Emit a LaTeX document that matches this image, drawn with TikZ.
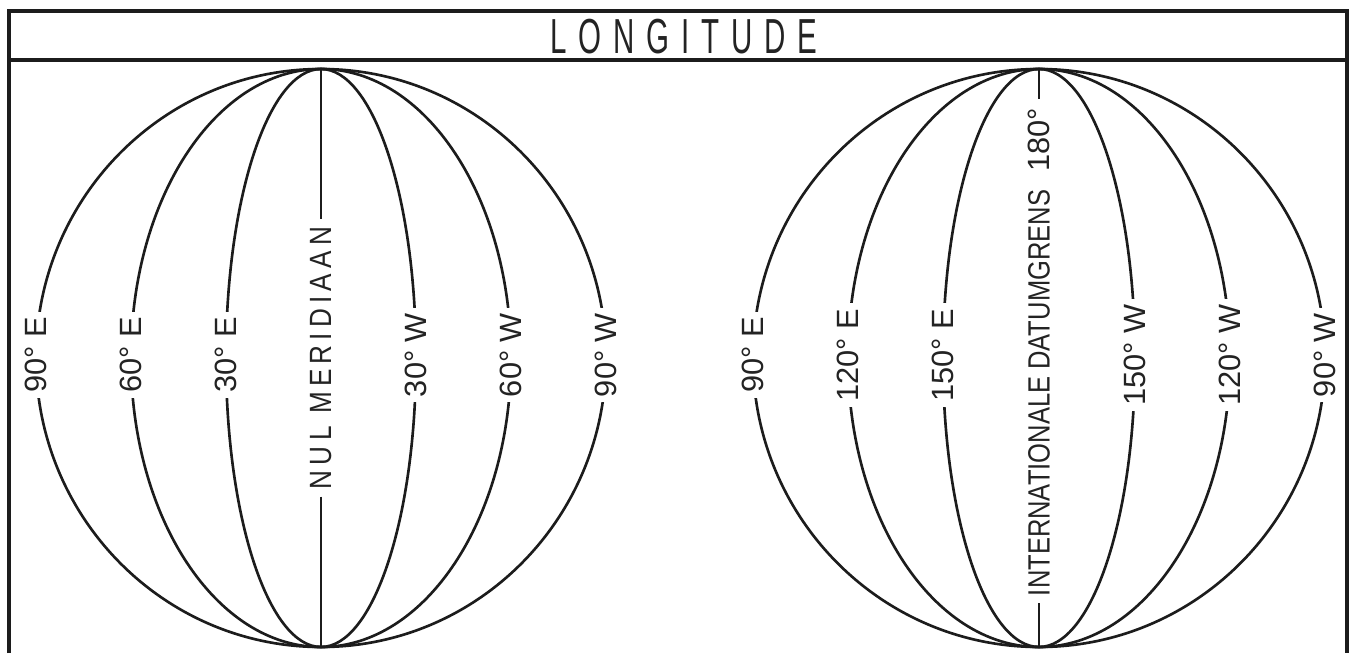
\documentclass[tikz,border=0pt]{standalone}
\usepackage{fontspec}
\setmainfont{Liberation Sans}
\newfontfamily\lonLabelFont{Liberation Sans}
\newfontfamily\lonNarrowFont{Liberation Sans}[FakeStretch=0.83]
\newfontfamily\lonSpacedFont{Liberation Sans}[FakeStretch=0.85,LetterSpace=17]
\newfontfamily\lonTitleFont{Liberation Sans}[FakeStretch=0.6,LetterSpace=24]
\definecolor{lonLine}{RGB}{28,28,28}
\definecolor{lonText}{RGB}{35,35,35}
\tikzset{
  lonframe/.style={
    draw=lonLine,
    line width=2.3pt
  },
  meridian/.style={
    draw=lonLine,
    line width=1.5pt
  },
  deglabel/.style={
    fill=white,
    rotate=90,
    inner xsep=3pt,
    inner ysep=1pt,
    text=lonText,
    font=\lonLabelFont\fontsize{17.5}{20}\selectfont
  },
  meridianname/.style={
    deglabel,
    inner xsep=4pt
  }
}

\begin{document}
\begin{tikzpicture}[x=0.2mm, y=-0.2mm]
  \useasboundingbox (0,0) rectangle (1354,653);

  % frame and title band
  \draw[lonframe] (9,653) -- (9,11) -- (1347,11) -- (1347,653);
  \draw[lonframe] (9,60) -- (1347,60);
  \node[text=lonText, font=\lonTitleFont\fontsize{28}{30}\selectfont] (title)
    at (684,37) {LONGITUDE};

  % left globe
  \coordinate (ltop) at (321,69);
  \coordinate (lbot) at (321,647);
  \foreach \r in {285,190,95}
    \draw[meridian] (321,358) ellipse [x radius=\r, y radius=289];
  \node[meridianname, font=\lonSpacedFont\fontsize{17.5}{20}\selectfont] (nul)
    at (321,358) {NUL MERIDIAAN};
  \draw[meridian] (ltop) -- (nul);
  \draw[meridian] (nul) -- (lbot);
  \foreach \x/\t/\n in {36/90° E/le90, 131/60° E/le60, 226/30° E/le30,
                        416/30° W/lw30, 511/60° W/lw60, 606/90° W/lw90}
    \node[deglabel] (\n) at (\x,355) {\t};

  % right globe
  \coordinate (rtop) at (1039,69);
  \coordinate (rbot) at (1039,647);
  \foreach \r in {286,191,96}
    \draw[meridian] (1039,358) ellipse [x radius=\r, y radius=289];
  \node[deglabel, inner xsep=5pt] (deg180) at (1039,140) {180°};
  \node[meridianname, font=\lonNarrowFont\fontsize{17.5}{20}\selectfont] (datum)
    at (1039,393) {INTERNATIONALE DATUMGRENS};
  \draw[meridian] (rtop) -- (deg180);
  \draw[meridian] (datum) -- (rbot);
  \foreach \x/\t/\n in {753/90° E/re90, 848/120° E/re120, 943/150° E/re150,
                        1135/150° W/rw150, 1230/120° W/rw120, 1325/90° W/rw90}
    \node[deglabel] (\n) at (\x,355) {\t};
\end{tikzpicture}
\end{document}
